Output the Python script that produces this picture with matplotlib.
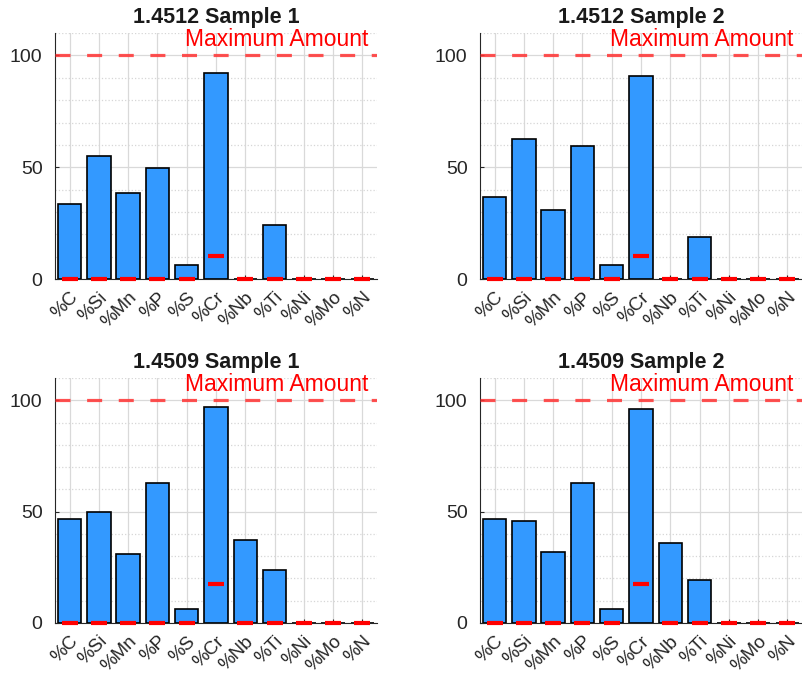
import numpy as np
import matplotlib
matplotlib.use('Agg')
import matplotlib.pyplot as plt
from matplotlib.ticker import MultipleLocator
from matplotlib.transforms import ScaledTranslation

plt.rcParams['font.family'] = ['Liberation Sans', 'DejaVu Sans']

elements = ['%C', '%Si', '%Mn', '%P', '%S', '%Cr', '%Nb', '%Ti', '%Ni', '%Mo', '%N']
titles = ['1.4512 Sample 1', '1.4512 Sample 2', '1.4509 Sample 1', '1.4509 Sample 2']

# percent of maximum amount for each element
s1_4512 = [33.5, 55.0, 38.7, 49.5, 6.2, 92.1, 0, 24.0, 0, 0, 0]
s2_4512 = [36.5, 62.8, 31.1, 59.5, 6.2, 91.0, 0, 18.6, 0, 0, 0]
s1_4509 = [46.6, 49.7, 31.0, 62.7, 6.3, 96.9, 37.3, 23.6, 0, 0, 0]
s2_4509 = [46.6, 45.7, 31.9, 62.7, 6.3, 96.1, 35.8, 19.4, 0, 0, 0]
values = [s1_4512, s2_4512, s1_4509, s2_4509]

# minimum amount markers
min_4512 = [0, 0, 0, 0, 0, 10.3, 0, 0, 0, 0, 0]
min_4509 = [0, 0, 0, 0, 0, 17.4, 0, 0, 0, 0, 0]
mins = [min_4512, min_4512, min_4509, min_4509]
max_amount = 100

fig = plt.figure(figsize=(8.02, 6.79), dpi=100)
W = 0.4015
pos = [[0.0686, 0.589, W, 0.3623],
       [0.5985, 0.589, W, 0.3623],
       [0.0686, 0.0825, W, 0.3608],
       [0.5985, 0.0825, W, 0.3608]]

gray = '#262626'
x = np.arange(1, len(elements) + 1)
for i in range(4):
    ax = fig.add_axes(pos[i])
    ax.bar(x, values[i], width=0.8, color='#3399ff', edgecolor='black', linewidth=1.2, zorder=3)
    ax.plot(x, mins[i], linestyle='none', marker='_', markersize=11, mew=3, color='red',
            zorder=5, clip_on=False)
    ax.axhline(max_amount, color='#ff3333', linestyle=(0, (4.7, 5.2)), linewidth=2.3, alpha=0.85, zorder=4)
    ax.text(11.2, 104.3, 'Maximum Amount', color='red', fontsize=16.5, ha='right', va='baseline')
    ax.set_title(titles[i], fontsize=15.5, fontweight='bold', color='#1a1a1a', pad=7)
    ax.set_xlim(0.5, 11.5)
    ax.set_ylim(0, 110)
    ax.set_xticks(x)
    ax.set_xticklabels(elements, rotation=45, ha='right', rotation_mode='anchor', fontsize=13.5, color=gray)
    for lab in ax.get_xticklabels():
        lab.set_transform(lab.get_transform() + ScaledTranslation(5 / 100, -2 / 100, fig.dpi_scale_trans))
    ax.set_yticks([0, 50, 100])
    ax.yaxis.set_minor_locator(MultipleLocator(10))
    ax.tick_params(axis='y', labelsize=14, labelcolor=gray, direction='in', length=3, color=gray, pad=9)
    ax.tick_params(axis='y', which='minor', length=0)
    ax.tick_params(axis='x', direction='in', length=3, color=gray, pad=7)
    ax.grid(True, which='major', color='#d9d9d9', linewidth=0.9, zorder=0)
    ax.grid(True, which='minor', axis='y', color='#d6d6d6', linestyle=':', linewidth=0.9, zorder=0)
    ax.set_axisbelow(True)
    ax.spines['top'].set_visible(False)
    ax.spines['right'].set_visible(False)
    ax.spines['left'].set_color(gray)
    ax.spines['bottom'].set_color(gray)

fig.savefig('out.png', dpi=100)
